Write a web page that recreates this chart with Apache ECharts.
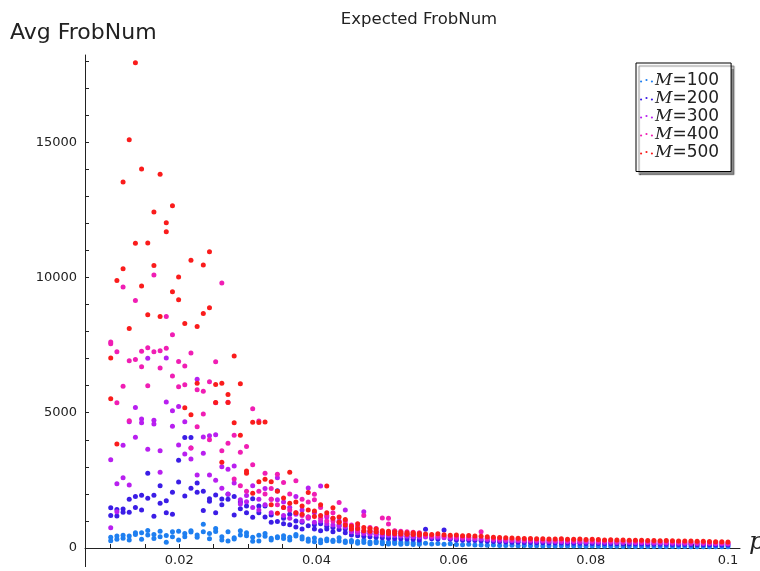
<!DOCTYPE html>
<html>
<head>
<meta charset="utf-8">
<script src="https://cdn.jsdelivr.net/npm/echarts@6/dist/echarts.min.js"></script>
<style>
  html, body { margin: 0; padding: 0; background: #fff; }
  #chart { width: 760px; height: 571px; }
</style>
</head>
<body>
<div id="chart"></div>
<script>
'use strict';
// p grid (x positions of the columns)
var pValues = [
  0.0100, 0.0109, 0.0118, 0.0127, 0.0136, 0.0145, 0.0154, 0.0163, 0.0172, 0.0181,
  0.0190, 0.0199, 0.0208, 0.0217, 0.0226, 0.0235, 0.0244, 0.0253, 0.0262, 0.0271,
  0.0280, 0.0289, 0.0298, 0.0307, 0.0316, 0.0325, 0.0334, 0.0343, 0.0352, 0.0361,
  0.0370, 0.0379, 0.0388, 0.0397, 0.0406, 0.0415, 0.0424, 0.0433, 0.0442, 0.0451,
  0.0460, 0.0469, 0.0478, 0.0487, 0.0496, 0.0505, 0.0514, 0.0523, 0.0532, 0.0541,
  0.0550, 0.0559, 0.0568, 0.0577, 0.0586, 0.0595, 0.0604, 0.0613, 0.0622, 0.0631,
  0.0640, 0.0649, 0.0658, 0.0667, 0.0676, 0.0685, 0.0694, 0.0703, 0.0712, 0.0721,
  0.0730, 0.0739, 0.0748, 0.0757, 0.0766, 0.0775, 0.0784, 0.0793, 0.0802, 0.0811,
  0.0820, 0.0829, 0.0838, 0.0847, 0.0856, 0.0865, 0.0874, 0.0883, 0.0892, 0.0901,
  0.0910, 0.0919, 0.0928, 0.0937, 0.0946, 0.0955, 0.0964, 0.0973, 0.0982, 0.0991,
  0.1000
];

// samples per p column (one or two trials)
var m100 = [
  [400, 270], [440, 320], [470, 360], [440, 300], [560, 500], [560, 320], [650, 480], [350, 500], [620, 420], [460, 210],
  [600, 420], [620, 300], [540, 420], [640, 590], [480, 400], [880, 600], [540, 340], [720, 610], [420, 300], [600, 260],
  [380, 330], [640, 480], [560, 450], [400, 250], [470, 260], [540, 430], [360, 300], [420, 380], [450, 350], [400, 300],
  [500, 440], [420, 330], [330, 250], [370, 230], [300, 190], [330, 270], [290, 240], [380, 260], [260, 200], [280, 220],
  [240, 180], [300, 200], [220, 160], [250, 190], [230, 160], [210, 150], [240, 170], [200, 140], [220, 160], [190, 130],
  [200, 140], [180], [150], [170], [140], [160], [130], [120], [140], [110],
  [115], [100], [110], [95], [90], [100], [85], [90], [80], [85],
  [78], [82], [75], [80], [72], [70], [75], [68], [70], [65],
  [68], [62], [65], [60], [62], [58], [60], [55], [58], [54],
  [52], [55], [50], [52], [48], [50], [46], [48], [45], [44],
  [42]
];
var m200 = [
  [1490, 1200], [1420, 1180], [1440, 1320], [1800, 1320], [1500, 1900], [1950, 1400], [2760, 1840], [1950, 1170], [1650, 2300], [1750, 1300],
  [2060, 1250], [3240, 2440], [4080, 1920], [4080, 2210], [2400, 2060], [1390, 2100], [1820, 1730], [1300, 1960], [1810, 1600], [1990, 1800],
  [1900, 1220], [1450, 1700], [1300, 1550], [1820, 1140], [1550, 1300], [1550, 1150], [1220, 950], [2120, 980], [1100, 900], [1250, 860],
  [1000, 780], [950, 700], [1150, 820], [860, 700], [900, 640], [800, 700], [760, 600], [850, 680], [700, 560], [620, 480],
  [580, 450], [560, 430], [540, 420], [520, 400], [500, 380], [480, 360], [620, 350], [440, 340], [420, 330], [400, 320],
  [390, 300], [690], [340], [330], [666], [320], [300], [290], [285], [275],
  [265], [250], [240], [232], [225], [215], [210], [205], [200], [196],
  [192], [188], [185], [182], [178], [175], [172], [170], [166], [164],
  [160], [158], [155], [152], [150], [148], [145], [142], [140], [138],
  [135], [132], [130], [128], [125], [122], [120], [118], [115], [112],
  [110]
];
var m300 = [
  [3260, 750], [2370, 1340], [3800, 2600], [4670, 2330], [5190, 4090], [4770, 4630], [7010, 3650], [4720, 4580], [2800, 3590], [7020, 5400],
  [5070, 4500], [5230, 3810], [4670, 3470], [3700, 3290], [6240, 2700], [4100, 3500], [4150, 2700], [4190, 2500], [2210, 3000], [2910, 2000],
  [3030, 2400], [1780, 1630], [1940, 1710], [2300, 1500], [1800, 1400], [2200, 1600], [1800, 1300], [2600, 1780], [1700, 1200], [1500, 1100],
  [1900, 1250], [1400, 1000], [2220, 1100], [1300, 950], [2290, 1000], [1150, 900], [1100, 850], [1000, 800], [1400, 780], [700, 600],
  [680, 560], [1340, 540], [640, 520], [620, 500], [600, 480], [580, 470], [560, 460], [540, 440], [520, 430], [500, 420],
  [490, 410], [410], [400], [395], [380], [370], [360], [355], [345], [340],
  [330], [310], [300], [290], [280], [272], [265], [260], [255], [250],
  [245], [240], [238], [235], [230], [228], [225], [220], [218], [215],
  [210], [208], [205], [202], [200], [196], [194], [190], [188], [185],
  [182], [180], [176], [174], [170], [168], [165], [162], [160], [156],
  [152]
];
var m400 = [
  [7610, 7550], [7250, 5370], [9650, 5980], [6920, 4700], [9150, 6970], [7270, 6700], [7400, 6000], [10090, 7250], [7290, 6650], [8560, 7380],
  [7880, 6360], [6890, 5960], [6730, 6030], [7210, 3700], [5850, 4480], [5790, 4950], [6140, 4000], [6880, 5370], [9790, 3590], [5390, 3870],
  [4170, 2550], [3540, 2300], [3750, 2100], [5150, 3080], [4690, 2100], [2760, 2000], [2200, 1800], [2730, 1600], [2420, 1500], [2000, 1400],
  [2490, 1300], [1800, 1200], [1700, 1150], [1990, 1780], [1500, 1100], [1200, 1000], [1300, 1000], [1680, 950], [1000, 900], [850, 700],
  [800, 650], [1200, 620], [760, 600], [720, 580], [1110, 560], [1100, 890], [640, 540], [620, 520], [600, 510], [580, 500],
  [560, 480], [460], [440], [450], [430], [420], [410], [400], [395], [385],
  [600], [360], [345], [335], [325], [315], [310], [300], [300], [295],
  [290], [285], [280], [285], [275], [270], [275], [265], [265], [260],
  [255], [255], [250], [250], [245], [240], [240], [235], [230], [228],
  [225], [220], [218], [212], [210], [205], [200], [198], [195], [190],
  [185]
];
var m500 = [
  [7020, 5520], [9890, 3840], [13530, 10320], [15085, 8110], [17930, 11260], [14010, 9680], [11270, 8620], [12420, 10445], [13810, 8560], [12025, 11690],
  [12650, 9470], [10016, 9176], [8300, 5180], [10630, 4920], [8190, 6090], [10460, 8670], [10950, 8880], [6040, 5380], [6090, 3170], [5670, 5380],
  [7100, 4625], [6070, 4170], [2850, 2760], [4650, 2020], [4640, 2450], [4660, 2540], [2450, 1600], [2100, 1280], [1850, 1500], [2800, 1650],
  [1700, 1300], [1550, 1250], [2050, 1400], [1370, 1160], [1600, 1200], [2290, 1300], [1490, 1100], [1150, 950], [1050, 850], [800, 700],
  [900, 720], [760, 640], [720, 620], [700, 600], [640, 560], [620, 540], [600, 530], [580, 520], [560, 510], [560, 500],
  [540, 480], [520], [500], [530], [490], [470], [480], [450], [460], [440],
  [430], [420], [400], [390], [380], [370], [360], [350], [355], [345],
  [340], [335], [330], [340], [325], [320], [330], [315], [320], [310],
  [300], [305], [295], [300], [290], [285], [290], [280], [275], [270],
  [275], [265], [260], [255], [260], [250], [245], [240], [235], [230],
  [225]
];

var seriesNames = ['100', '200', '300', '400', '500'];
var seriesColors = ['#1f7ff0', '#3b1de6', '#b81ff0', '#f01eb4', '#fa1c1c'];
var seriesSamples = [m100, m200, m300, m400, m500];

var yLabelValues = [0, 5000, 10000, 15000];
var yTickValues = [0, 1000, 2000, 3000, 4000, 5000, 6000, 7000, 8000, 9000, 10000,
  11000, 12000, 13000, 14000, 15000, 16000, 17000, 18000];
var xLabelValues = [0.02, 0.04, 0.06, 0.08, 0.1];
var xTickValues = [0.01, 0.015, 0.02, 0.025, 0.03, 0.035, 0.04, 0.045, 0.05, 0.055,
  0.06, 0.065, 0.07, 0.075, 0.08, 0.085, 0.09, 0.095, 0.1];

function buildData(samples) {
  var out = [];
  for (var i = 0; i < samples.length; i++) {
    for (var k = 0; k < samples[i].length; k++) {
      out.push([pValues[i], samples[i][k]]);
    }
  }
  return out;
}

var dotsIcon = 'path://M0,4a1,1 0 1,0 2,0a1,1 0 1,0 -2,0z M5,2.6a1,1 0 1,0 2,0a1,1 0 1,0 -2,0z M10,4a1,1 0 1,0 2,0a1,1 0 1,0 -2,0z';

var series = seriesNames.map(function (n, idx) {
  return {
    name: 'M=' + n,
    type: 'scatter',
    symbol: 'circle',
    symbolSize: 5,
    itemStyle: { color: seriesColors[idx], opacity: 1 },
    data: buildData(seriesSamples[idx])
  };
});

var chart = echarts.init(document.getElementById('chart'), null, { renderer: 'canvas' });
chart.setOption({
  animation: false,
  backgroundColor: '#fff',
  title: {
    text: 'Expected FrobNum',
    left: 414,
    textAlign: 'center',
    top: 6,
    textStyle: { fontFamily: 'DejaVu Sans', fontSize: 16.5, fontWeight: 'normal', color: '#222' }
  },
  grid: { left: 85, right: 20, top: 55, bottom: 23, outerBoundsMode: 'none', containLabel: false },
  legend: {
    orient: 'vertical',
    left: 636,
    top: 63,
    width: 97,
    padding: [9, 12, 10, 4],
    itemGap: 0.5,
    itemWidth: 13,
    itemHeight: 6,
    icon: dotsIcon,
    backgroundColor: '#fff',
    borderColor: '#000',
    borderWidth: 1,
    shadowColor: 'rgba(0,0,0,0.45)',
    shadowOffsetX: 3,
    shadowOffsetY: 3,
    shadowBlur: 1,
    formatter: function (name) {
      return '{i|M}{n|=' + name.slice(2) + '}';
    },
    textStyle: {
      padding: [0, 0, 0, -3],
      lineHeight: 17.5,
      rich: {
        i: { fontFamily: 'DejaVu Serif', fontStyle: 'italic', fontSize: 17, color: '#222', lineHeight: 17.5, height: 17.5 },
        n: { fontFamily: 'DejaVu Sans', fontSize: 17, color: '#222', lineHeight: 17.5, height: 17.5 }
      }
    },
    data: seriesNames.map(function (n) { return 'M=' + n; })
  },
  xAxis: {
    type: 'value',
    min: 0.00625,
    max: 0.10175,
    axisLine: { onZero: false, lineStyle: { color: '#222', width: 1 } },
    axisTick: { show: true, inside: true, length: 4, customValues: xTickValues, lineStyle: { color: '#222' } },
    axisLabel: {
      customValues: xLabelValues,
      margin: 6,
      fontFamily: 'DejaVu Sans',
      fontSize: 13,
      color: '#222',
      formatter: function (v) { return String(+v.toFixed(3)); }
    },
    splitLine: { show: false }
  },
  yAxis: {
    type: 'value',
    min: 0,
    max: 18220,
    axisLine: { show: true, onZero: false, lineStyle: { color: '#222', width: 1 } },
    axisTick: { show: true, inside: true, length: 4, customValues: yTickValues, lineStyle: { color: '#222' } },
    axisLabel: {
      customValues: yLabelValues,
      margin: 8,
      fontFamily: 'DejaVu Sans',
      fontSize: 13,
      color: '#222',
      formatter: function (v) { return String(v); }
    },
    splitLine: { show: false }
  },
  graphic: [
    {
      type: 'text',
      left: 10,
      top: 22,
      style: { text: 'Avg FrobNum', fontFamily: 'DejaVu Sans', fontSize: 22, fill: '#222' }
    },
    {
      type: 'text',
      left: 749,
      top: 530,
      style: { text: 'p', fontFamily: 'DejaVu Serif', fontStyle: 'italic', fontSize: 25, fill: '#222' }
    },
    {
      // y axis continues a little below the x axis
      type: 'line',
      shape: { x1: 85.5, y1: 548, x2: 85.5, y2: 567 },
      style: { stroke: '#222', lineWidth: 1 }
    }
  ],
  series: series
});
</script>
</body>
</html>
